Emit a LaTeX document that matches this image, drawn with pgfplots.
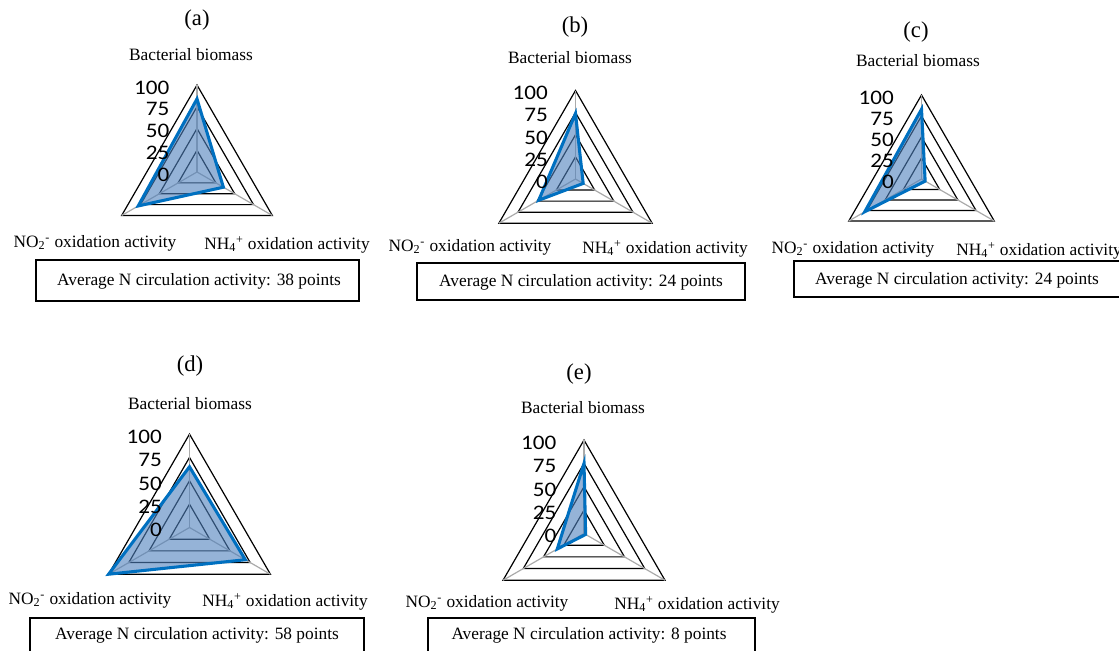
\documentclass[border=0pt]{standalone}
\usepackage{fontspec}
\setmainfont{Liberation Serif}
\newfontfamily\calib{Carlito}
\usepackage{pgfplots}
\pgfplotsset{compat=1.18}
\definecolor{spokec}{RGB}{170,170,170}
\definecolor{serline}{RGB}{0,112,192}
\definecolor{serfill}{RGB}{79,129,189}
\pgfplotsset{
  radar/.style n args={3}{hide axis, anchor=origin, xmin=-110, xmax=110, ymin=-60, ymax=110,
    clip=false, x={#1*0.0075pt}, y={#1*0.0075pt}, at={({#2*0.75pt},{-#3*0.75pt})}},
  ring/.style={draw=black, line width=0.9pt, no marks, data cs=polar},
  spoke/.style={draw=spokec, line width=0.9pt, no marks, data cs=polar},
  series/.style={draw=serline, line width=2.3pt, fill=serfill, fill opacity=0.6, no marks, data cs=polar, line join=miter},
}
\newcommand{\radargrid}{%
  \addplot[ring] coordinates {(90,25) (210,25) (330,25)} -- cycle;
  \addplot[ring] coordinates {(90,50) (210,50) (330,50)} -- cycle;
  \addplot[ring] coordinates {(90,75) (210,75) (330,75)} -- cycle;
  \addplot[ring] coordinates {(90,100) (210,100) (330,100)} -- cycle;
  \addplot[spoke] coordinates {(0,0) (90,100)};
  \addplot[spoke] coordinates {(0,0) (210,100)};
  \addplot[spoke] coordinates {(0,0) (330,100)};
}
\newcommand{\radarticks}{%
  \pgfplotsinvokeforeach{0,25,50,75,100}{
    \node[xshift=-20.5pt, yshift=-2pt, xscale=1.12, anchor=east, inner sep=0pt,
      font=\calib\fontsize{15.5}{17}\selectfont] at (axis cs:0,##1) {##1};
  }
}
\begin{document}
\begin{tikzpicture}[x=0.75pt, y=-0.75pt]
\path[use as bounding box] (0,0) rectangle (1119,650);
\tikzset{lab/.style={font=\fontsize{13}{15}\selectfont, inner sep=0pt},
  ttl/.style={font=\fontsize{17}{19}\selectfont, inner sep=0pt},
  bx/.style={draw=black, line width=0.8pt}}
% ---------- (a)
\begin{axis}[radar={87}{197}{172}]
\radargrid
\addplot[series] coordinates {(90,84) (210,78) (330,35)} -- cycle;
\radarticks
\end{axis}
\node[ttl] at (197,20) {(a)};
\node[lab] at (191,55) {Bacterial biomass};
\node[lab] at (95,243) {NO\textsubscript{2}\textsuperscript{-} oxidation activity};
\node[lab] at (287,245) {NH\textsubscript{4}\textsuperscript{+} oxidation activity};
\draw[bx] (36,260) rectangle (359,301);
\node[lab] at (199,281) {Average N circulation activity: 38 points};
% ---------- (b)
\begin{axis}[radar={88.5}{575.5}{179}]
\radargrid
\addplot[series] coordinates {(90,74) (210,48) (330,10)} -- cycle;
\radarticks
\end{axis}
\node[ttl] at (575,27) {(b)};
\node[lab] at (570,58) {Bacterial biomass};
\node[lab] at (470,247) {NO\textsubscript{2}\textsuperscript{-} oxidation activity};
\node[lab] at (665,249) {NH\textsubscript{4}\textsuperscript{+} oxidation activity};
\draw[bx] (417,263) rectangle (745,300);
\node[lab] at (581,282) {Average N circulation activity: 24 points};
% ---------- (c)
\begin{axis}[radar={84}{921.5}{179}]
\radargrid
\addplot[series] coordinates {(90,83) (210,78) (330,5)} -- cycle;
\radarticks
\end{axis}
\node[ttl] at (916,32) {(c)};
\node[lab] at (918,61) {Bacterial biomass};
\node[lab] at (853,249) {NO\textsubscript{2}\textsuperscript{-} oxidation activity};
\node[lab] at (1039,251) {NH\textsubscript{4}\textsuperscript{+} oxidation activity};
\draw[bx] (794,261) rectangle (1135,297);
\node[lab] at (957,280) {Average N circulation activity: 24 points};
% ---------- (d)
\begin{axis}[radar={93.4}{189.5}{527.5}]
\radargrid
\addplot[series] coordinates {(90,65) (210,100) (330,69)} -- cycle;
\radarticks
\end{axis}
\node[ttl] at (190,366) {(d)};
\node[lab] at (190,404) {Bacterial biomass};
\node[lab] at (90,600) {NO\textsubscript{2}\textsuperscript{-} oxidation activity};
\node[lab] at (285,602) {NH\textsubscript{4}\textsuperscript{+} oxidation activity};
\draw[bx] (30,618) rectangle (364,665);
\node[lab] at (197,635) {Average N circulation activity: 58 points};
% ---------- (e)
\begin{axis}[radar={93.5}{584}{533.5}]
\radargrid
\addplot[series] coordinates {(90,75) (210,33) (330,2)} -- cycle;
\radarticks
\end{axis}
\node[ttl] at (579,374) {(e)};
\node[lab] at (583,408) {Bacterial biomass};
\node[lab] at (487,603) {NO\textsubscript{2}\textsuperscript{-} oxidation activity};
\node[lab] at (697,605) {NH\textsubscript{4}\textsuperscript{+} oxidation activity};
\draw[bx] (428,618) rectangle (755,665);
\node[lab] at (589,635) {Average N circulation activity: 8 points};
\end{tikzpicture}
\end{document}
